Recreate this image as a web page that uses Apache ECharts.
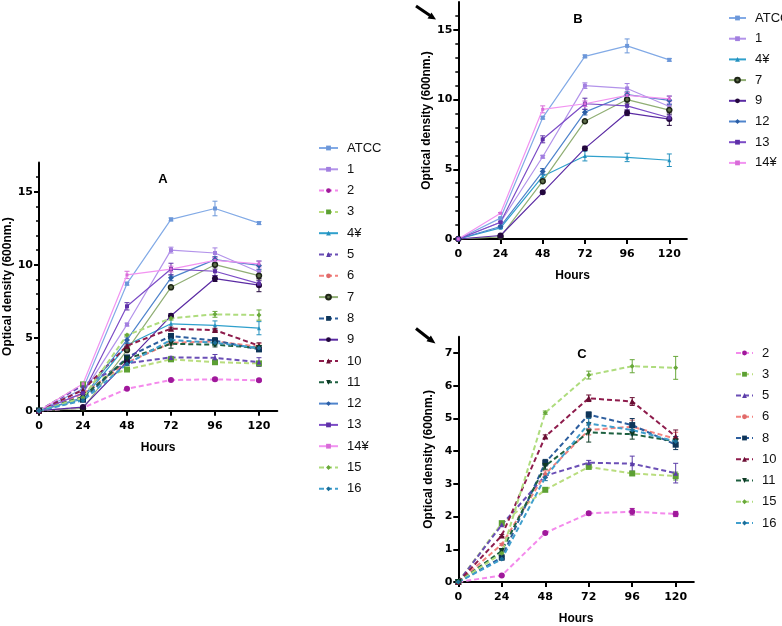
<!DOCTYPE html>
<html>
<head>
<meta charset="utf-8">
<script src="https://cdn.jsdelivr.net/npm/echarts@6/dist/echarts.min.js"></script>
<style>
html, body { margin: 0; padding: 0; background: #fff; }
#chart { width: 782px; height: 626px; }
</style>
</head>
<body>
<div id="chart"></div>
<script>
// time points (hours)
var hours = [0, 24, 48, 72, 96, 120];
var yTicksAB = [0, 5, 10, 15];
var yMinorAB = [1, 2, 3, 4, 6, 7, 8, 9, 11, 12, 13, 14, 16];
var yTicksC = [0, 1, 2, 3, 4, 5, 6, 7];

// optical density means
var atcc = [0, 1.5, 8.7, 13.1, 13.85, 12.85];
var s1 = [0, 1.2, 5.9, 11.0, 10.8, 9.5];
var s2 = [0, 0.2, 1.5, 2.1, 2.15, 2.08];
var s3 = [0, 1.8, 2.82, 3.52, 3.32, 3.24];
var s4 = [0, 0.8, 4.5, 5.95, 5.85, 5.65];
var s5 = [0, 1.75, 3.25, 3.65, 3.62, 3.33];
var s6 = [0, 1.15, 3.3, 4.65, 4.75, 4.38];
var s7 = [0, 0.15, 4.15, 8.45, 10.0, 9.25];
var s8 = [0, 0.75, 3.65, 5.12, 4.8, 4.2];
var s9 = [0, 0.25, 3.35, 6.5, 9.05, 8.6];
var s10 = [0, 1.42, 4.45, 5.62, 5.52, 4.45];
var s11 = [0, 0.95, 3.55, 4.58, 4.52, 4.3];
var s12 = [0, 0.9, 4.85, 9.1, 10.35, 9.95];
var s13 = [0, 1.2, 7.15, 9.7, 9.55, 8.7];
var s14 = [0, 1.85, 9.3, 9.7, 10.3, 10.05];
var s15 = [0, 0.88, 5.18, 6.33, 6.6, 6.55];
var s16 = [0, 0.7, 3.2, 4.85, 4.65, 4.3];

// error bar half-widths (SD)
var e0 = [0, 0.05, 0.1, 0.1, 0.5, 0.1];
var e1 = [0, 0.05, 0.1, 0.2, 0.35, 0.2];
var e2 = [0, 0.02, 0.04, 0.05, 0.1, 0.08];
var e3 = [0, 0.02, 0.04, 0.05, 0.05, 0.12];
var e4 = [0, 0.05, 0.1, 0.35, 0.3, 0.45];
var e5 = [0, 0.02, 0.05, 0.07, 0.23, 0.3];
var e6 = [0, 0.03, 0.1, 0.15, 0.2, 0.2];
var e7 = [0, 0.05, 0.1, 0.1, 0.3, 0.3];
var e8 = [0, 0.03, 0.1, 0.08, 0.2, 0.15];
var e9 = [0, 0.05, 0.1, 0.15, 0.2, 0.45];
var e10 = [0, 0.03, 0.05, 0.1, 0.12, 0.2];
var e11 = [0, 0.03, 0.1, 0.3, 0.15, 0.15];
var e12 = [0, 0.05, 0.2, 0.2, 0.2, 0.3];
var e13 = [0, 0.05, 0.25, 0.4, 0.3, 0.2];
var e14 = [0, 0.05, 0.25, 0.2, 0.2, 0.2];
var e15 = [0, 0.03, 0.05, 0.12, 0.2, 0.35];
var e16 = [0, 0.03, 0.1, 0.15, 0.15, 0.15];

var names = ['ATCC', '1', '2', '3', '4¥', '5', '6', '7', '8', '9', '10', '11', '12', '13', '14¥', '15', '16'];
var values = [atcc, s1, s2, s3, s4, s5, s6, s7, s8, s9, s10, s11, s12, s13, s14, s15, s16];
var errors = [e0, e1, e2, e3, e4, e5, e6, e7, e8, e9, e10, e11, e12, e13, e14, e15, e16];
var namesB = ['ATCC', '1', '4¥', '7', '9', '12', '13', '14¥'];
var namesC = ['2', '3', '5', '6', '8', '10', '11', '15', '16'];

// line colour, marker colour, dashed, symbol, size
var styles = [
    { line: '#82AAE6', mark: '#6C97D9', dash: false, sym: 'rect', size: 4 },
    { line: '#B393EA', mark: '#A27FE0', dash: false, sym: 'rect', size: 4 },
    { line: '#F48AEC', mark: '#A0189B', dash: true, sym: 'circle', size: 6 },
    { line: '#B9DD7E', mark: '#5CA033', dash: true, sym: 'rect', size: 6 },
    { line: '#2FA0CC', mark: '#2390BE', dash: false, sym: 'triangle', size: 4 },
    { line: '#6B4FB6', mark: '#5B3DA8', dash: true, sym: 'triangle', size: 5 },
    { line: '#F3837F', mark: '#E06A6A', dash: true, sym: 'circle', size: 4 },
    { line: '#90AE74', mark: '#5E6E4A', dash: false, sym: 'circle', size: 5, border: '#1D2415' },
    { line: '#2D5E9E', mark: '#0E3559', dash: true, sym: 'rect', size: 6 },
    { line: '#5B2BA3', mark: '#23073D', dash: false, sym: 'circle', size: 6 },
    { line: '#8E1C4C', mark: '#6A0E33', dash: true, sym: 'triangle', size: 6 },
    { line: '#1E6040', mark: '#0E3A25', dash: true, sym: 'triangle', size: 6, rot: 180 },
    { line: '#4F84CC', mark: '#2A5DA5', dash: false, sym: 'diamond', size: 6 },
    { line: '#7C4CC6', mark: '#5E30A8', dash: false, sym: 'rect', size: 4 },
    { line: '#F293F1', mark: '#D86BD8', dash: false, sym: 'rect', size: 3 },
    { line: '#AEDC7D', mark: '#68A83A', dash: true, sym: 'diamond', size: 5 },
    { line: '#409FCD', mark: '#1B6E99', dash: true, sym: 'diamond', size: 5 }
];

var chart = echarts.init(document.getElementById('chart'));

var tickFont = { color: '#000', fontWeight: 'bold', fontFamily: 'DejaVu Sans', fontSize: 11 };
var nameFont = { color: '#000', fontWeight: 'bold', fontFamily: 'Liberation Sans', fontSize: 12 };

function xAxisFor(grid) {
    return {
        type: 'value', gridIndex: grid, min: 0, max: 130,
        name: 'Hours', nameLocation: 'middle', nameGap: 31, nameTextStyle: nameFont,
        axisLine: { show: true, onZero: false, lineStyle: { color: '#000', width: 2 } },
        axisTick: { show: true, length: 5, customValues: hours, lineStyle: { color: '#000', width: 2 } },
        axisLabel: Object.assign({ customValues: hours, margin: 10 }, tickFont),
        splitLine: { show: false }
    };
}

function yAxisFor(grid, max, ticks) {
    return {
        type: 'value', gridIndex: grid, min: 0, max: max, position: 'left',
        name: 'Optical density (600nm.)', nameLocation: 'middle', nameGap: 24, nameTextStyle: nameFont,
        axisLine: { show: true, lineStyle: { color: '#000', width: 2 } },
        axisTick: { show: true, length: 5, customValues: ticks, lineStyle: { color: '#000', width: 2 } },
        axisLabel: Object.assign({ customValues: ticks, margin: 6 }, tickFont),
        splitLine: { show: false }
    };
}

function yMinorFor(grid, max) {
    return {
        type: 'value', gridIndex: grid, min: 0, max: max, position: 'left', offset: 0,
        axisLine: { show: false },
        axisTick: { show: true, length: 3, customValues: yMinorAB, lineStyle: { color: '#000', width: 1.5 } },
        axisLabel: { show: false },
        splitLine: { show: false }
    };
}

var series = [];

function addSeries(idx, xi, yi) {
    var st = styles[idx];
    var v = values[idx];
    var e = errors[idx];
    var pts = hours.map(function (h, i) { return [h, v[i]]; });
    var bars = [];
    hours.forEach(function (h, i) {
        if (e[i] > 0) bars.push([h, v[i] - e[i], v[i] + e[i]]);
    });
    series.push({
        type: 'custom', xAxisIndex: xi, yAxisIndex: yi, data: bars, silent: true, z: 3,
        encode: { x: 0, y: [1, 2] },
        renderItem: function (params, api) {
            var lo = api.coord([api.value(0), api.value(1)]);
            var hi = api.coord([api.value(0), api.value(2)]);
            var w = 2.5;
            var s = { stroke: st.mark, lineWidth: 1 };
            return {
                type: 'group', children: [
                    { type: 'line', shape: { x1: lo[0], y1: lo[1], x2: hi[0], y2: hi[1] }, style: s },
                    { type: 'line', shape: { x1: lo[0] - w, y1: lo[1], x2: lo[0] + w, y2: lo[1] }, style: s },
                    { type: 'line', shape: { x1: hi[0] - w, y1: hi[1], x2: hi[0] + w, y2: hi[1] }, style: s }
                ]
            };
        }
    });
    series.push({
        name: names[idx], type: 'line', xAxisIndex: xi, yAxisIndex: yi, data: pts,
        symbol: st.sym, symbolSize: st.size, symbolRotate: st.rot || 0, showAllSymbol: true,
        z: 4,
        lineStyle: { color: st.line, width: st.dash ? 2 : 1.2, type: st.dash ? [5, 3] : 'solid' },
        itemStyle: { color: st.mark, borderColor: st.border || st.mark, borderWidth: st.border ? 1.5 : 0 }
    });
}

names.forEach(function (n, i) { addSeries(i, 0, 0); });
namesB.forEach(function (n) { addSeries(names.indexOf(n), 1, 2); });
namesC.forEach(function (n) { addSeries(names.indexOf(n), 2, 4); });

var legendText = { fontFamily: 'Liberation Sans', fontSize: 13, color: '#111', lineHeight: 14, padding: [0, 0, 0, 4] };

var option = {
    animation: false,
    backgroundColor: '#fff',
    title: [
        { text: 'A', left: 158, top: 168, textAlign: 'center', textStyle: { fontFamily: 'Liberation Sans', fontWeight: 'bold', fontSize: 13, color: '#000' } },
        { text: 'B', left: 573, top: 8, textAlign: 'center', textStyle: { fontFamily: 'Liberation Sans', fontWeight: 'bold', fontSize: 13, color: '#000' } },
        { text: 'C', left: 577, top: 343, textAlign: 'center', textStyle: { fontFamily: 'Liberation Sans', fontWeight: 'bold', fontSize: 13, color: '#000' } }
    ],
    grid: [
        { left: 39, top: 162.5, width: 238.3, height: 248.2 },
        { left: 458.3, top: 2, width: 228.6, height: 237 },
        { left: 458.3, top: 336.8, width: 235.5, height: 246.5 }
    ],
    xAxis: [xAxisFor(0), xAxisFor(1), xAxisFor(2)],
    yAxis: [
        yAxisFor(0, 17, yTicksAB), yMinorFor(0, 17),
        yAxisFor(1, 17, yTicksAB), yMinorFor(1, 17),
        yAxisFor(2, 7.5, yTicksC)
    ],
    legend: [
        { data: names, orient: 'vertical', left: 313, top: 136, itemWidth: 19, itemHeight: 6, itemGap: 7.3, textStyle: legendText },
        { data: namesB, orient: 'vertical', left: 723, top: 6, itemWidth: 17, itemHeight: 6, itemGap: 6.7, textStyle: legendText },
        { data: namesC, orient: 'vertical', left: 730, top: 341, itemWidth: 17, itemHeight: 6, itemGap: 7.25, textStyle: legendText }
    ],
    graphic: [
        { type: 'polyline', shape: { points: [[416, 6], [430, 15.5]] }, style: { stroke: '#000', lineWidth: 3 } },
        { type: 'polygon', shape: { points: [[436, 19.5], [427.5, 18.5], [431.5, 12.5]] }, style: { fill: '#000' } },
        { type: 'polyline', shape: { points: [[416, 328.5], [430, 339.5]] }, style: { stroke: '#000', lineWidth: 3 } },
        { type: 'polygon', shape: { points: [[435.5, 343.5], [426.5, 341.3], [430.9, 335.6]] }, style: { fill: '#000' } }
    ],
    series: series
};

chart.setOption(option);
</script>
</body>
</html>
